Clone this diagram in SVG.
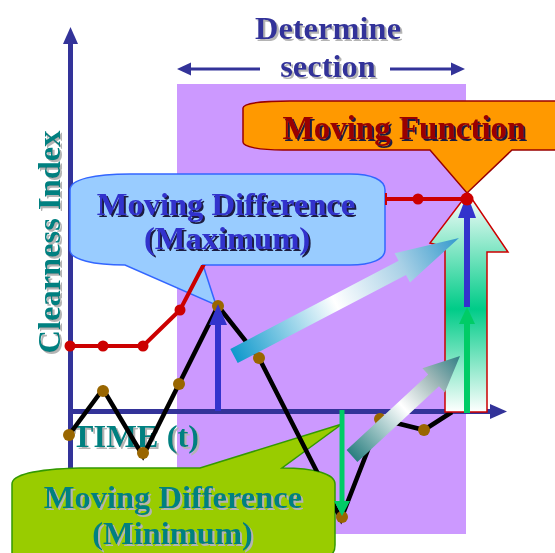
<svg xmlns="http://www.w3.org/2000/svg" width="555" height="553" viewBox="0 0 555 553">
<defs>
<style>
.t{font-family:"Liberation Serif","Times New Roman",serif;font-weight:bold;font-size:32.5px;text-anchor:middle}
.navy{fill:#333399}
.teal{fill:#008080}
.blue{fill:#3333CC}
.dred{fill:#990000}
.axis{stroke:#333399;stroke-width:5;fill:none}
.hd{fill:#333399}
.red{stroke:#CC0000;stroke-width:4;fill:none;stroke-linejoin:round}
.blk{stroke:#000;stroke-width:4.5;fill:none;stroke-linejoin:miter;stroke-miterlimit:6}
.rd{fill:#CC0000}
.bd{fill:#996600}
.ab{stroke:#3333CC;stroke-width:6}
.fb{fill:#3333CC}
.ag{stroke:#00CC66;stroke-width:6}
.fg{fill:#00CC66}
</style>
<filter id="shGray" x="-10%" y="-10%" width="120%" height="130%">
<feDropShadow dx="2" dy="2" stdDeviation="0" flood-color="#B4B4B4" flood-opacity="1"/>
</filter>
<filter id="shDark" x="-10%" y="-10%" width="120%" height="130%">
<feDropShadow dx="2" dy="2" stdDeviation="0" flood-color="#1A1A40" flood-opacity="1"/>
</filter>
<linearGradient id="hollowG" x1="0" y1="0" x2="0" y2="1">
<stop offset="0" stop-color="#FFFFFF"/>
<stop offset="0.53" stop-color="#00CC88"/>
<stop offset="1" stop-color="#FFFFFF"/>
</linearGradient>
<linearGradient id="g1" gradientUnits="userSpaceOnUse" x1="234" y1="356" x2="459" y2="238">
<stop offset="0" stop-color="#0F99CC"/>
<stop offset="0.45" stop-color="#FFFFFF"/>
<stop offset="0.75" stop-color="#A8D0E6"/>
<stop offset="1" stop-color="#3399CC"/>
</linearGradient>
<linearGradient id="g2" gradientUnits="userSpaceOnUse" x1="352" y1="456" x2="460" y2="356">
<stop offset="0" stop-color="#2A7F80"/>
<stop offset="0.48" stop-color="#FFFFFF"/>
<stop offset="0.75" stop-color="#A0B8B8"/>
<stop offset="1" stop-color="#307F85"/>
</linearGradient>
<mask id="bodies" maskUnits="userSpaceOnUse" x="0" y="0" width="555" height="553">
<rect width="555" height="553" fill="#fff"/>
<path d="M 70,190 C 70,179 95,174 130,174 L 350,174 C 372,174 385,180 385,190 L 385,250 C 385,259 372,265 350,265 L 125,265 C 95,265 70,260 70,250 Z" fill="#000"/>
<path d="M 12,484 C 12,474 40,469 80,468 L 282,468 C 315,468 335,474 335,484 L 335,545 C 335,551 332,555 328,556 L 12,556 Z" fill="#000"/>
</mask>
</defs>

<rect id="determine-section-area" x="177" y="84" width="289" height="450" fill="#CC99FF"/>

<g id="axes">
<line class="axis" x1="70.5" y1="40" x2="70.5" y2="480"/>
<polygon class="hd" points="70.5,27 63,44 78,44"/>
<line class="axis" x1="68" y1="411.5" x2="492" y2="411.5"/>
<polygon class="hd" points="507,411.5 490,404 490,419"/>
</g>

<g id="determine-section">
<line x1="188" y1="69" x2="260" y2="69" stroke="#333399" stroke-width="3"/>
<polygon class="hd" points="177,69 191,62.5 191,75.5"/>
<line x1="390" y1="69" x2="454" y2="69" stroke="#333399" stroke-width="3"/>
<polygon class="hd" points="465,69 451,62.5 451,75.5"/>
<g filter="url(#shGray)">
<text class="t navy" x="328" y="39">Determine</text>
<text class="t navy" x="328" y="77">section</text>
</g>
</g>

<g id="y-label" filter="url(#shGray)">
<text class="t teal" transform="translate(60,242) rotate(-90)" x="0" y="0">Clearness Index</text>
</g>

<g id="x-label" filter="url(#shGray)">
<text class="t teal" x="135.5" y="447">TIME (t)</text>
</g>

<g id="moving-difference-maximum">
<path d="M 70,190 C 70,179 95,174 130,174 L 350,174 C 372,174 385,180 385,190 L 385,250 C 385,259 372,265 350,265 L 203,265 L 216,305 L 125,265 C 95,265 70,260 70,250 Z" fill="#99CCFF" stroke="#3366FF" stroke-width="1.5"/>
</g>

<g id="moving-difference-minimum">
<path d="M 12,484 C 12,474 40,469 80,468 L 200,468 L 342,424 L 282,468 C 315,468 335,474 335,484 L 335,545 C 335,551 332,555 328,556 L 12,556 Z" fill="#99CC00" stroke="#339900" stroke-width="1.5"/>
</g>

<g id="moving-function">
<path d="M 243,108 C 243,103 265,101 290,101 L 560,101 L 560,150 L 512,150 L 467,193 L 430,150 L 283,150 C 260,150 243,147 243,142 Z" fill="#FF9900" stroke="#990000" stroke-width="1.5"/>
<text class="t dred" x="404" y="139" style="font-size:33px" filter="url(#shDark)">Moving Function</text>
</g>

<g id="connectors">
<g mask="url(#bodies)">
<polyline class="red" points="70,346 143,346 180,310 205,262 240,199 467,199"/>
<line x1="386" y1="193" x2="386" y2="205" stroke="#CC0000" stroke-width="2"/>
<polyline class="blk" points="69,435 103,389 143,456 218,306 259,358 341,519 380,419 424,430 452,412"/>
</g>
<g id="big-up-arrow">
<polygon points="445,412 445,247 430,243 468,193 508,252 487,252 487,412" fill="url(#hollowG)" stroke="#CC0000" stroke-width="1.5"/>
</g>
<g mask="url(#bodies)">
<circle class="rd" cx="70" cy="346" r="5.5"/>
<circle class="rd" cx="103" cy="346" r="5.5"/>
<circle class="rd" cx="143" cy="346" r="5.5"/>
<circle class="rd" cx="180" cy="310" r="5.5"/>
<circle class="rd" cx="418" cy="199" r="5.5"/>
<circle class="bd" cx="69" cy="435" r="6"/>
<circle class="bd" cx="103" cy="391" r="6"/>
<circle class="bd" cx="143" cy="453" r="6"/>
<circle class="bd" cx="179" cy="384" r="6"/>
<circle class="bd" cx="218" cy="306" r="6"/>
<circle class="bd" cx="259" cy="358" r="6"/>
<circle class="bd" cx="342" cy="517" r="6"/>
<circle class="bd" cx="380" cy="419" r="6"/>
<circle class="bd" cx="424" cy="430" r="6"/>
</g>
<line class="ab" x1="218" y1="411" x2="218" y2="320"/>
<polygon class="fb" points="218,304 209,325 227,325"/>
<line class="ag" x1="467" y1="413" x2="467" y2="318"/>
<polygon class="fg" points="467,307 459,324 475,324"/>
<line class="ab" x1="467" y1="307" x2="467" y2="212"/>
<polygon class="fb" points="467,194 458,218 476,218"/>
<circle class="rd" cx="467" cy="199" r="6.5"/>
<line x1="342" y1="410" x2="342" y2="505" stroke="#00CC66" stroke-width="5"/>
<polygon class="fg" points="342,516 334,501 350,501"/>
<polygon points="230.3,348.9 398.6,260.7 394.6,253.2 459,238 410,282.4 406,274.9 237.7,363.1" fill="url(#g1)"/>
<polygon points="346.6,450.1 428.2,374.5 422.4,368.3 460,356 444.8,392.5 439,386.3 357.4,461.9" fill="url(#g2)"/>
</g>

<g id="moving-difference-maximum-text" filter="url(#shDark)">
<text class="t blue" x="226" y="215">Moving Difference</text>
<text class="t blue" x="227" y="249">(Maximum)</text>
</g>

<g id="moving-difference-minimum-text" filter="url(#shGray)">
<text class="t teal" x="173" y="508">Moving Difference</text>
<text class="t teal" x="172.5" y="544">(Minimum)</text>
</g>
</svg>
